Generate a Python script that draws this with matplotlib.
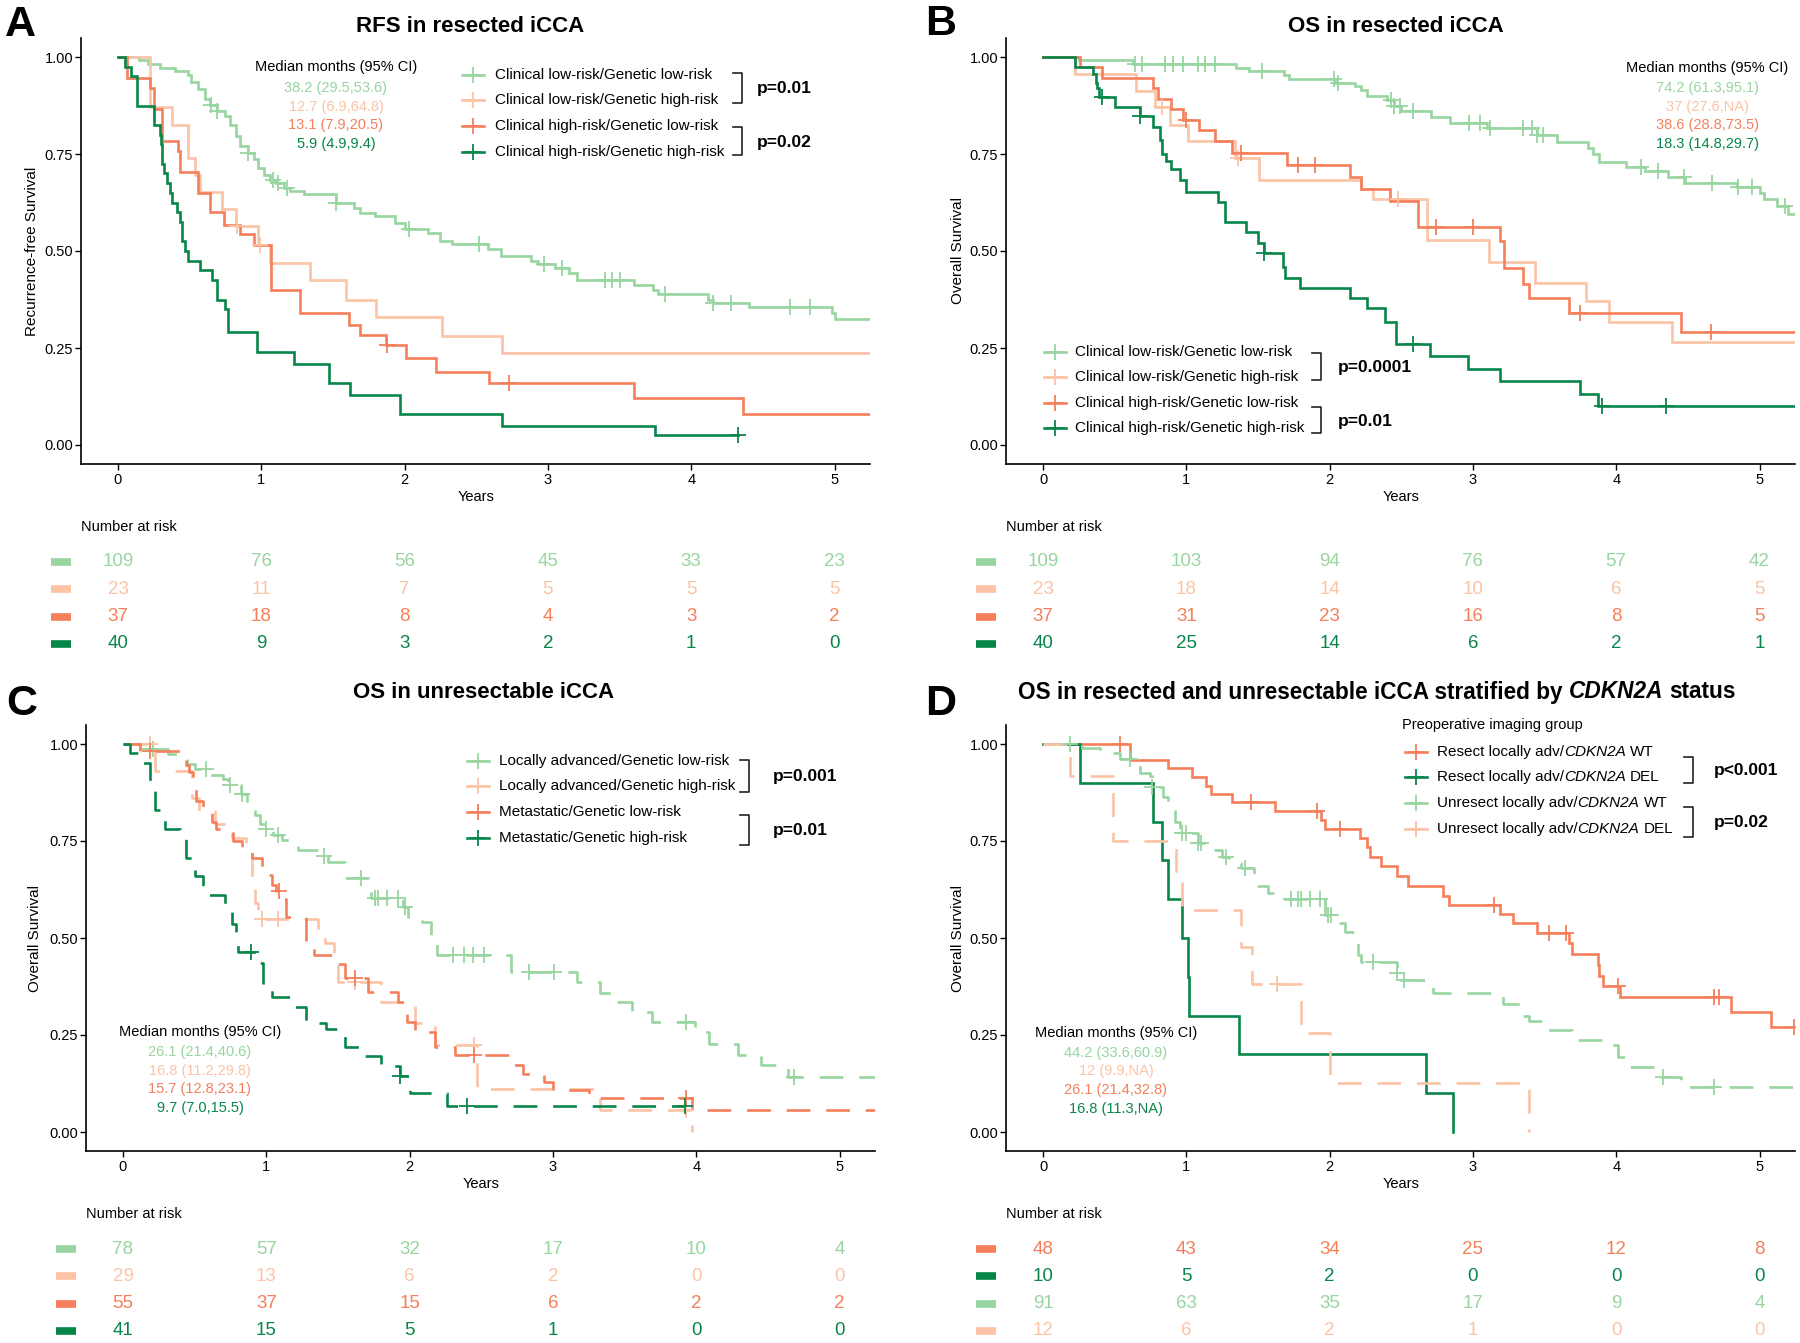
import numpy as np
import matplotlib
matplotlib.use("Agg")
import matplotlib.pyplot as plt
from matplotlib.lines import Line2D

plt.rcParams['font.family'] = ['Liberation Sans', 'DejaVu Sans']

# ----------------------------------------------------------------- data
YEAR_TICKS = [0, 1, 2, 3, 4, 5]
SURV_TICKS = [0.0, 0.25, 0.50, 0.75, 1.00]
SURV_TICK_LABELS = ["0.00", "0.25", "0.50", "0.75", "1.00"]

C_LG = '#98D5A0'   # light green
C_PE = '#FCC3A5'   # peach
C_OR = '#F57F5B'   # orange
C_DG = '#08864A'   # dark green

# ---- Panel A : RFS in resected iCCA
A_titles = ("A", "RFS in resected iCCA", "Recurrence-free Survival")
A_labels = ["Clinical low-risk/Genetic low-risk", "Clinical low-risk/Genetic high-risk",
            "Clinical high-risk/Genetic low-risk", "Clinical high-risk/Genetic high-risk"]
A_pvals = ["p=0.01", "p=0.02"]
A_medians = ["38.2 (29.5,53.6)", "12.7 (6.9,64.8)", "13.1 (7.9,20.5)", "5.9 (4.9,9.4)"]
A_risk = [[109, 76, 56, 45, 33, 23], [23, 11, 7, 5, 5, 5], [37, 18, 8, 4, 3, 2], [40, 9, 3, 2, 1, 0]]

A1_t = [0.15, 0.21, 0.29, 0.40, 0.49, 0.51, 0.56, 0.61, 0.64, 0.69, 0.75, 0.78, 0.82, 0.85, 0.91,
        0.95, 0.98, 1.02, 1.06, 1.10, 1.16, 1.20, 1.30, 1.52, 1.65, 1.69, 1.79, 1.93, 2.00, 2.16,
        2.25, 2.33, 2.58, 2.67, 2.88, 2.93, 3.05, 3.15, 3.20, 3.60, 3.73, 3.77, 4.12, 4.15, 4.40,
        4.98, 5.00]
A1_s = [0.991, 0.982, 0.972, 0.963, 0.954, 0.936, 0.918, 0.893, 0.876, 0.860, 0.847, 0.826, 0.796,
        0.770, 0.753, 0.736, 0.714, 0.697, 0.684, 0.676, 0.663, 0.654, 0.646, 0.624, 0.611, 0.598,
        0.590, 0.573, 0.556, 0.547, 0.526, 0.517, 0.504, 0.487, 0.474, 0.466, 0.455, 0.443, 0.425,
        0.412, 0.400, 0.390, 0.375, 0.365, 0.355, 0.340, 0.325]
A1_c = [0.65, 0.69, 0.91, 1.08, 1.12, 1.18, 1.52, 2.03, 2.52, 2.97, 3.10, 3.40, 3.45, 3.50, 3.82,
        4.15, 4.28, 4.69, 4.83]
A1_end = 5.25

A2_t = [0.22, 0.375, 0.49, 0.54, 0.575, 0.725, 0.825, 0.98, 1.06, 1.34, 1.59, 1.80, 2.26, 2.68]
A2_s = [0.870, 0.826, 0.739, 0.696, 0.652, 0.609, 0.565, 0.515, 0.468, 0.425, 0.375, 0.330, 0.280, 0.236]
A2_c = [0.83, 0.99]
A2_end = 5.25

A3_t = [0.06, 0.225, 0.25, 0.31, 0.42, 0.435, 0.56, 0.64, 0.74, 0.85, 0.95, 1.07, 1.27, 1.61, 1.69,
        1.87, 2.01, 2.22, 2.59, 3.60, 4.36]
A3_s = [0.946, 0.919, 0.865, 0.784, 0.757, 0.703, 0.649, 0.600, 0.567, 0.545, 0.515, 0.400, 0.339,
        0.309, 0.283, 0.258, 0.223, 0.189, 0.159, 0.121, 0.080]
A3_c = [1.88, 2.73]
A3_end = 5.25

A4_t = [0.05, 0.09, 0.13, 0.25, 0.29, 0.30, 0.31, 0.32, 0.34, 0.36, 0.38, 0.41, 0.43, 0.445, 0.47,
        0.49, 0.57, 0.655, 0.69, 0.75, 0.77, 0.97, 1.23, 1.47, 1.62, 1.97, 2.68, 3.75]
A4_s = [0.975, 0.950, 0.875, 0.825, 0.800, 0.775, 0.725, 0.700, 0.675, 0.650, 0.625, 0.600, 0.575,
        0.525, 0.500, 0.475, 0.450, 0.425, 0.375, 0.350, 0.290, 0.240, 0.210, 0.160, 0.130, 0.080,
        0.050, 0.026]
A4_c = [4.33]
A4_end = 4.33

# ---- Panel B : OS in resected iCCA
B_titles = ("B", "OS in resected iCCA", "Overall Survival")
B_labels = A_labels
B_pvals = ["p=0.0001", "p=0.01"]
B_medians = ["74.2 (61.3,95.1)", "37 (27.6,NA)", "38.6 (28.8,73.5)", "18.3 (14.8,29.7)"]
B_risk = [[109, 103, 94, 76, 57, 42], [23, 18, 14, 10, 6, 5], [37, 31, 23, 16, 8, 5], [40, 25, 14, 6, 2, 1]]

B1_t = [0.25, 0.63, 1.35, 1.44, 1.68, 1.72, 2.04, 2.18, 2.22, 2.26, 2.40, 2.45, 2.50, 2.71, 2.84,
        3.10, 3.45, 3.59, 3.80, 3.84, 3.88, 4.07, 4.20, 4.36, 4.48, 4.84, 5.00, 5.03, 5.12, 5.20]
B1_s = [0.991, 0.982, 0.972, 0.963, 0.953, 0.944, 0.934, 0.924, 0.914, 0.900, 0.890, 0.875, 0.860,
        0.845, 0.830, 0.816, 0.800, 0.780, 0.765, 0.750, 0.730, 0.716, 0.705, 0.690, 0.675, 0.665,
        0.650, 0.635, 0.615, 0.595]
B1_c = [0.64, 0.69, 0.85, 0.91, 0.98, 1.08, 1.13, 1.20, 1.53, 2.03, 2.06, 2.43, 2.45, 2.49, 2.58,
        2.97, 3.05, 3.12, 3.35, 3.41, 3.45, 3.49, 4.17, 4.29, 4.47, 4.67, 4.85, 4.95, 5.18]
B1_end = 5.25

B2_t = [0.22, 0.65, 0.78, 0.886, 1.013, 1.34, 1.51, 2.22, 2.30, 2.68, 3.11, 3.43, 3.79, 3.95, 4.39]
B2_s = [0.957, 0.913, 0.870, 0.826, 0.783, 0.739, 0.683, 0.660, 0.633, 0.528, 0.472, 0.418, 0.370,
        0.317, 0.265]
B2_c = [0.83, 1.36, 2.48]
B2_end = 5.25

B3_t = [0.26, 0.41, 0.77, 0.80, 0.89, 0.98, 1.09, 1.20, 1.32, 1.70, 2.14, 2.22, 2.42, 2.62, 3.19,
        3.22, 3.35, 3.39, 3.67, 4.45]
B3_s = [0.973, 0.946, 0.919, 0.892, 0.865, 0.838, 0.811, 0.784, 0.753, 0.722, 0.690, 0.660, 0.630,
        0.563, 0.525, 0.455, 0.414, 0.378, 0.341, 0.292]
B3_c = [1.00, 1.38, 1.78, 1.90, 2.74, 3.00, 3.75, 4.66]
B3_end = 5.25

B4_t = [0.22, 0.35, 0.37, 0.38, 0.39, 0.50, 0.68, 0.77, 0.816, 0.83, 0.86, 0.89, 0.955, 1.00, 1.22,
        1.27, 1.42, 1.50, 1.54, 1.676, 1.69, 1.79, 2.14, 2.26, 2.385, 2.466, 2.70, 2.966, 3.19,
        3.75, 3.87]
B4_s = [0.975, 0.955, 0.934, 0.920, 0.898, 0.872, 0.847, 0.820, 0.785, 0.750, 0.733, 0.712, 0.683,
        0.653, 0.627, 0.575, 0.549, 0.520, 0.494, 0.460, 0.430, 0.405, 0.380, 0.354, 0.316, 0.260,
        0.230, 0.196, 0.165, 0.131, 0.100]
B4_c = [0.41, 0.68, 1.54, 2.58, 3.90, 4.35]
B4_end = 5.25

# ---- Panel C : OS in unresectable iCCA
C_titles = ("C", "OS in unresectable iCCA", "Overall Survival")
C_labels = ["Locally advanced/Genetic low-risk", "Locally advanced/Genetic high-risk",
            "Metastatic/Genetic low-risk", "Metastatic/Genetic high-risk"]
C_pvals = ["p=0.001", "p=0.01"]
C_medians = ["26.1 (21.4,40.6)", "16.8 (11.2,29.8)", "15.7 (12.8,23.1)", "9.7 (7.0,15.5)"]
C_risk = [[78, 57, 32, 17, 10, 4], [29, 13, 6, 2, 0, 0], [55, 37, 15, 6, 2, 2], [41, 15, 5, 1, 0, 0]]

C1_t = [0.165, 0.316, 0.444, 0.50, 0.607, 0.70, 0.735, 0.82, 0.862, 0.92, 0.955, 1.00, 1.048, 1.107,
        1.222, 1.40, 1.432, 1.548, 1.71, 1.734, 1.955, 1.99, 2.09, 2.152, 2.19, 2.71, 3.17, 3.33,
        3.41, 3.55, 3.69, 3.99, 4.09, 4.29, 4.45, 4.64]
C1_s = [0.987, 0.974, 0.948, 0.935, 0.920, 0.910, 0.894, 0.870, 0.842, 0.817, 0.795, 0.780, 0.765,
        0.752, 0.727, 0.712, 0.697, 0.654, 0.636, 0.602, 0.580, 0.555, 0.540, 0.499, 0.456, 0.413,
        0.387, 0.357, 0.335, 0.309, 0.284, 0.258, 0.228, 0.198, 0.172, 0.142]
C1_c = [0.19, 0.21, 0.58, 0.75, 0.83, 1.00, 1.08, 1.40, 1.66, 1.76, 1.78, 1.84, 1.92, 1.97, 2.30,
        2.38, 2.44, 2.52, 2.83, 3.01, 3.93, 4.68]
C1_end = 5.25

C2_t = [0.22, 0.48, 0.53, 0.64, 0.76, 0.86, 0.90, 0.92, 0.94, 1.36, 1.41, 1.47, 1.50, 1.80, 2.04,
        2.18, 2.47, 3.33, 3.97]
C2_s = [0.931, 0.862, 0.828, 0.793, 0.759, 0.724, 0.655, 0.590, 0.548, 0.510, 0.487, 0.440, 0.387,
        0.336, 0.280, 0.224, 0.112, 0.056, 0.000]
C2_c = [0.19, 0.97, 1.08, 1.62, 2.45, 3.93]
C2_end = 3.97

C3_t = [0.12, 0.42, 0.44, 0.46, 0.49, 0.51, 0.56, 0.62, 0.65, 0.72, 0.77, 0.83, 0.90, 0.97, 1.00,
        1.04, 1.07, 1.10, 1.14, 1.28, 1.33, 1.47, 1.55, 1.71, 1.92, 1.98, 2.04, 2.18, 2.32, 2.71,
        2.79, 2.94, 3.00, 3.25, 3.97]
C3_s = [0.982, 0.964, 0.945, 0.927, 0.890, 0.852, 0.834, 0.800, 0.780, 0.770, 0.750, 0.724, 0.705,
        0.679, 0.662, 0.636, 0.620, 0.600, 0.555, 0.490, 0.456, 0.434, 0.396, 0.361, 0.336, 0.284,
        0.258, 0.220, 0.198, 0.172, 0.150, 0.129, 0.108, 0.087, 0.057]
C3_c = [0.19, 1.09, 1.62, 2.45, 3.93]
C3_end = 5.25

C4_t = [0.05, 0.11, 0.19, 0.22, 0.29, 0.40, 0.44, 0.50, 0.56, 0.71, 0.76, 0.79, 0.80, 0.94, 0.98,
        1.04, 1.18, 1.28, 1.42, 1.55, 1.66, 1.80, 1.93, 2.00, 2.26]
C4_s = [0.976, 0.951, 0.878, 0.829, 0.780, 0.756, 0.707, 0.659, 0.610, 0.585, 0.537, 0.512, 0.463,
        0.435, 0.372, 0.347, 0.322, 0.280, 0.265, 0.220, 0.195, 0.170, 0.145, 0.100, 0.068]
C4_c = [0.89, 1.93, 2.40, 3.92]
C4_end = 3.92

# ---- Panel D : OS stratified by CDKN2A
D_titles = ("D", None, "Overall Survival")
D_legend_title = "Preoperative imaging group"
D_label_parts = [("Resect locally adv/", "CDKN2A", "WT"), ("Resect locally adv/", "CDKN2A", "DEL"),
                 ("Unresect locally adv/", "CDKN2A", "WT"), ("Unresect locally adv/", "CDKN2A", "DEL")]
D_title_parts = ("OS in resected and unresectable iCCA stratified by", "CDKN2A", "status")
D_pvals = ["p<0.001", "p=0.02"]
D_medians = ["44.2 (33.6,60.9)", "12 (9.9,NA)", "26.1 (21.4,32.8)", "16.8 (11.3,NA)"]
D_risk = [[48, 43, 34, 25, 12, 8], [10, 5, 2, 0, 0, 0], [91, 63, 35, 17, 9, 4], [12, 6, 2, 1, 0, 0]]

D1_t = [0.61, 0.87, 1.04, 1.14, 1.17, 1.32, 1.62, 1.94, 1.97, 2.21, 2.26, 2.28, 2.36, 2.47, 2.55,
        2.79, 2.83, 3.19, 3.28, 3.45, 3.67, 3.69, 3.87, 3.88, 3.91, 4.03, 4.80, 5.08]
D1_s = [0.958, 0.937, 0.915, 0.893, 0.872, 0.850, 0.828, 0.805, 0.782, 0.758, 0.735, 0.710, 0.686,
        0.660, 0.635, 0.608, 0.585, 0.562, 0.538, 0.514, 0.486, 0.458, 0.430, 0.402, 0.376, 0.347,
        0.308, 0.270]
D1_c = [0.54, 1.45, 1.91, 2.07, 3.15, 3.53, 3.65, 4.01, 4.68, 4.72, 5.24]
D1_end = 5.25

D2_t = [0.26, 0.77, 0.83, 0.87, 0.97, 1.01, 1.02, 1.37, 2.67, 2.86]
D2_s = [0.9, 0.8, 0.7, 0.6, 0.5, 0.4, 0.3, 0.2, 0.1, 0.0]
D2_c = []
D2_end = 2.86

D3_t = [0.27, 0.40, 0.54, 0.63, 0.64, 0.68, 0.75, 0.76, 0.84, 0.87, 0.92, 0.955, 1.08, 1.165, 1.25,
        1.30, 1.38, 1.47, 1.50, 1.57, 1.66, 1.97, 2.03, 2.105, 2.175, 2.20, 2.22, 2.47, 2.50, 2.675,
        2.72, 3.21, 3.35, 3.39, 3.51, 3.69, 3.95, 4.01, 4.09, 4.31, 4.45]
D3_s = [0.989, 0.978, 0.962, 0.951, 0.940, 0.925, 0.917, 0.890, 0.864, 0.842, 0.800, 0.770, 0.744,
        0.727, 0.710, 0.693, 0.680, 0.660, 0.634, 0.617, 0.600, 0.559, 0.538, 0.516, 0.495, 0.456,
        0.439, 0.409, 0.392, 0.379, 0.357, 0.330, 0.300, 0.285, 0.263, 0.237, 0.224, 0.194, 0.168,
        0.142, 0.116]
D3_c = [0.19, 0.61, 0.76, 0.97, 1.00, 1.08, 1.10, 1.28, 1.41, 1.73, 1.78, 1.80, 1.86, 1.93, 1.99,
        2.01, 2.30, 2.47, 2.52, 4.33, 4.68]
D3_end = 5.25

D4_t = [0.19, 0.49, 0.93, 0.97, 1.385, 1.455, 1.80, 2.00, 3.39]
D4_s = [0.917, 0.750, 0.667, 0.572, 0.477, 0.381, 0.254, 0.127, 0.000]
D4_c = [1.63]
D4_end = 3.39

# ----------------------------------------------------------------- layout
W, H, DPI = 1800, 1343, 100
PX_YEAR = 143.3
PX_UNIT = 388.0
XLIM = (-0.255, 5.25)
YLIM = (-0.05, 1.05)
ROW = 27.3
RISK_YLIM = (3.4, -1.9)
LW = 1.9
SOLID = '-'
DASHED = (0, (9, 6))

fig = plt.figure(figsize=(W / DPI, H / DPI), dpi=DPI)


def fx(x):
    return x / W


def fy(y):
    return 1 - y / H


def km(ax, t, s, cens, end, color, ls):
    tt = np.r_[0.0, t, end]
    ss = np.r_[1.0, s, s[-1]]
    ax.step(tt, ss, where='post', color=color, lw=LW, linestyle=ls,
            solid_joinstyle='miter', dash_capstyle='butt', zorder=3)
    if len(cens):
        c = np.asarray(cens, dtype=float)
        idx = np.searchsorted(tt, c, side='right') - 1
        ax.plot(c, ss[idx], ls='none', marker='+', ms=12, mew=1.3, color=color, zorder=4)


def main_axes(x0, y1, ylabel, ylab_x):
    left = x0 + XLIM[0] * PX_YEAR
    width = (XLIM[1] - XLIM[0]) * PX_YEAR
    top = y1 - (YLIM[1] - 1) * PX_UNIT
    height = (YLIM[1] - YLIM[0]) * PX_UNIT
    ax = fig.add_axes([left / W, 1 - (top + height) / H, width / W, height / H])
    ax.set_xlim(XLIM)
    ax.set_ylim(YLIM)
    for side in ('top', 'right'):
        ax.spines[side].set_visible(False)
    for side in ('left', 'bottom'):
        ax.spines[side].set_linewidth(1.2)
    ax.set_xticks(YEAR_TICKS)
    ax.set_yticks(SURV_TICKS)
    ax.set_yticklabels(SURV_TICK_LABELS)
    ax.tick_params(length=4, width=1, labelsize=10.5, pad=2)
    ax.set_xlabel("Years", fontsize=10.5)
    ax.xaxis.set_label_coords(0.5, -(33.0 / height))
    ax.xaxis.label.set_va('center')
    ax.set_ylabel(ylabel, fontsize=11)
    ax.yaxis.set_label_coords((ylab_x - left) / width, 0.5)
    ax.yaxis.label.set_va('center')
    return ax


def risk_table(x0, row0, counts, colors):
    left = x0 + XLIM[0] * PX_YEAR
    width = (XLIM[1] - XLIM[0]) * PX_YEAR
    top = row0 + RISK_YLIM[1] * ROW
    height = (RISK_YLIM[0] - RISK_YLIM[1]) * ROW
    rax = fig.add_axes([left / W, 1 - (top + height) / H, width / W, height / H])
    rax.set_xlim(XLIM)
    rax.set_ylim(RISK_YLIM)
    rax.axis('off')
    rax.text(XLIM[0], -1.28, "Number at risk", ha='left', va='center', fontsize=10.5)
    for i, (row, c) in enumerate(zip(counts, colors)):
        for t, n in zip(YEAR_TICKS, row):
            rax.text(t, i, str(n), ha='center', va='center', color=c, fontsize=13.5)
        rax.plot([-0.47, -0.33], [i, i], color=c, lw=5.5, solid_capstyle='butt', clip_on=False)
    return rax


def key(kx, y, color):
    fig.add_artist(Line2D([fx(kx - 11), fx(kx + 11)], [fy(y), fy(y)], color=color, lw=LW))
    fig.add_artist(Line2D([fx(kx)], [fy(y)], marker='+', ms=12, mew=1.3, color=color, ls='none'))


def bracket(x, ya, yb, ptxt, px):
    fig.add_artist(Line2D([fx(x - 9), fx(x), fx(x), fx(x - 9)], [fy(ya), fy(ya), fy(yb), fy(yb)],
                          color='#222222', lw=1.2))
    fig.text(fx(px), fy((ya + yb) / 2 + 1), ptxt, ha='left', va='center', fontsize=12.5,
             fontweight='bold')


def rich(ax, x, y, parts, fs, weight='normal', va='center'):
    """parts: list of (text, italic, gap_pt)"""
    prev = fig.text(fx(x), fy(y), parts[0][0], fontsize=fs, fontweight=weight,
                    ha='left', va=va)
    for txt, ital, gap in parts[1:]:
        prev = ax.annotate(txt, xy=(1, 0), xycoords=prev, xytext=(gap, 0),
                           textcoords='offset points', ha='left', va='bottom',
                           fontsize=fs, fontweight=weight,
                           style='italic' if ital else 'normal')
    return prev


def medians(cx, y_head, ys, texts, colors):
    fig.text(fx(cx), fy(y_head), "Median months (95% CI)", ha='center', va='center', fontsize=10.5)
    for y, t, c in zip(ys, texts, colors):
        fig.text(fx(cx), fy(y), t, ha='center', va='center', fontsize=10.5, color=c)


COLS_ABC = [C_LG, C_PE, C_OR, C_DG]
COLS_D = [C_OR, C_DG, C_LG, C_PE]
LETTER_FS = 31

# ---------------- Panel A
axA = main_axes(118, 57, A_titles[2], 32)
for t, s, c, e, col in [(A1_t, A1_s, A1_c, A1_end, C_LG), (A2_t, A2_s, A2_c, A2_end, C_PE),
                        (A3_t, A3_s, A3_c, A3_end, C_OR), (A4_t, A4_s, A4_c, A4_end, C_DG)]:
    km(axA, t, s, c, e, col, SOLID)
fig.text(fx(5), fy(25), A_titles[0], fontsize=LETTER_FS, fontweight='bold', ha='left', va='center')
fig.text(fx(470), fy(27), A_titles[1], fontsize=16, fontweight='bold', ha='center', va='center')
for y, lab, col in zip([75, 100, 126, 152], A_labels, COLS_ABC):
    key(473, y, col)
    fig.text(fx(495), fy(y), lab, ha='left', va='center', fontsize=11)
bracket(742, 73, 103, A_pvals[0], 757)
bracket(742, 127, 155, A_pvals[1], 757)
medians(336, 67, [88, 107, 125, 144], A_medians, COLS_ABC)
risk_table(118, 562, A_risk, COLS_ABC)

# ---------------- Panel B
axB = main_axes(1043, 57, B_titles[2], 958)
for t, s, c, e, col in [(B1_t, B1_s, B1_c, B1_end, C_LG), (B2_t, B2_s, B2_c, B2_end, C_PE),
                        (B3_t, B3_s, B3_c, B3_end, C_OR), (B4_t, B4_s, B4_c, B4_end, C_DG)]:
    km(axB, t, s, c, e, col, SOLID)
fig.text(fx(925), fy(24), B_titles[0], fontsize=LETTER_FS, fontweight='bold', ha='left', va='center')
fig.text(fx(1396), fy(27), B_titles[1], fontsize=16, fontweight='bold', ha='center', va='center')
for y, lab, col in zip([352, 377, 403, 428], B_labels, COLS_ABC):
    key(1055, y, col)
    fig.text(fx(1075), fy(y), lab, ha='left', va='center', fontsize=11)
bracket(1321, 353, 380, B_pvals[0], 1338)
bracket(1321, 407, 433, B_pvals[1], 1338)
medians(1707, 68, [88, 107, 125, 144], B_medians, COLS_ABC)
risk_table(1043, 562, B_risk, COLS_ABC)

# ---------------- Panel C
axC = main_axes(123, 744, C_titles[2], 35)
for t, s, c, e, col in [(C1_t, C1_s, C1_c, C1_end, C_LG), (C2_t, C2_s, C2_c, C2_end, C_PE),
                        (C3_t, C3_s, C3_c, C3_end, C_OR), (C4_t, C4_s, C4_c, C4_end, C_DG)]:
    km(axC, t, s, c, e, col, DASHED)
fig.text(fx(6), fy(704), C_titles[0], fontsize=LETTER_FS, fontweight='bold', ha='left', va='center')
fig.text(fx(484), fy(692), C_titles[1], fontsize=16, fontweight='bold', ha='center', va='center')
for y, lab, col in zip([761, 786, 812, 838], C_labels, COLS_ABC):
    key(478, y, col)
    fig.text(fx(499), fy(y), lab, ha='left', va='center', fontsize=11)
bracket(749, 760, 792, C_pvals[0], 773)
bracket(749, 815, 845, C_pvals[1], 773)
medians(200, 1032, [1052, 1071, 1089, 1108], C_medians, COLS_ABC)
risk_table(123, 1249, C_risk, COLS_ABC)

# ---------------- Panel D
axD = main_axes(1043, 744, D_titles[2], 958)
for t, s, c, e, col, ls in [(D1_t, D1_s, D1_c, D1_end, C_OR, SOLID),
                            (D2_t, D2_s, D2_c, D2_end, C_DG, SOLID),
                            (D3_t, D3_s, D3_c, D3_end, C_LG, DASHED),
                            (D4_t, D4_s, D4_c, D4_end, C_PE, DASHED)]:
    km(axD, t, s, c, e, col, ls)
fig.text(fx(925), fy(704), D_titles[0], fontsize=LETTER_FS, fontweight='bold', ha='left', va='center')
rich(axD, 1018, 692, [(D_title_parts[0], False, 0), (D_title_parts[1], True, 4.4),
                      (D_title_parts[2], False, 4.4)], 16.3, weight='bold')
fig.text(fx(1402), fy(725), D_legend_title, ha='left', va='center', fontsize=10.5)
for y, parts, col in zip([752, 777, 803, 829], D_label_parts, COLS_D):
    key(1416, y, col)
    rich(axD, 1437, y, [(parts[0], False, 0), (parts[1], True, 0), (parts[2], False, 3.1)], 11)
bracket(1693, 757, 783, D_pvals[0], 1714)
bracket(1693, 807, 837, D_pvals[1], 1714)
medians(1116, 1033, [1053, 1071, 1090, 1109], D_medians, [C_LG, C_PE, C_OR, C_DG])
risk_table(1043, 1249, D_risk, COLS_D)

fig.savefig("out.png", dpi=DPI)
